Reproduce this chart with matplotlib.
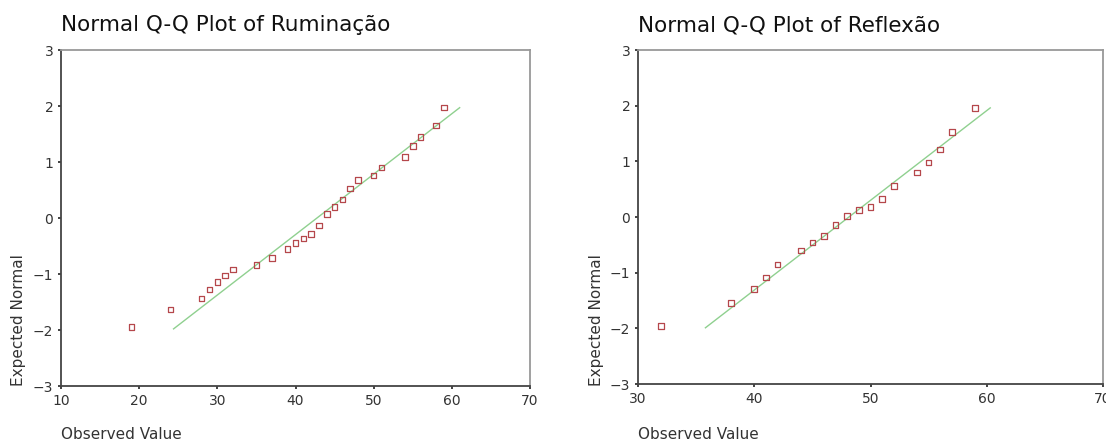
import matplotlib
matplotlib.use("Agg")
import matplotlib.pyplot as plt

# --- Data: Ruminação ---
rum_obs = [19, 24, 28, 29, 30, 31, 32, 35, 37, 39, 40, 41, 42, 43, 44, 45, 46, 47, 48, 50, 51, 54, 55, 56, 58, 59]
rum_exp = [-1.95, -1.63, -1.44, -1.28, -1.14, -1.03, -0.92, -0.84, -0.71, -0.55, -0.45, -0.37, -0.29, -0.13,
           0.07, 0.20, 0.33, 0.53, 0.68, 0.76, 0.90, 1.09, 1.29, 1.45, 1.65, 1.97]
rum_line_x = [24.4, 61.0]
rum_line_y = [-1.98, 1.97]

# --- Data: Reflexão ---
ref_obs = [32, 38, 40, 41, 42, 44, 45, 46, 47, 48, 49, 50, 51, 52, 54, 55, 56, 57, 59]
ref_exp = [-1.96, -1.54, -1.29, -1.09, -0.85, -0.60, -0.46, -0.34, -0.14, 0.02, 0.13, 0.18, 0.32, 0.56,
           0.80, 0.98, 1.21, 1.53, 1.96]
ref_line_x = [35.8, 60.3]
ref_line_y = [-1.99, 1.96]

titles = ["Normal Q-Q Plot of Ruminação", "Normal Q-Q Plot of Reflexão"]
rum_xticks = [10, 20, 30, 40, 50, 60, 70]
ref_xticks = [30, 40, 50, 60, 70]
yticks = [-3, -2, -1, 0, 1, 2, 3]

plt.rcParams['font.family'] = ['DejaVu Sans']

fig = plt.figure(figsize=(11.06, 4.44), dpi=100)
W, H = 1106, 444

def make_ax(px_left, px_right, px_top, px_bottom):
    return fig.add_axes([px_left / W, 1 - px_bottom / H, (px_right - px_left) / W, (px_bottom - px_top) / H])

ax1 = make_ax(61, 530, 50, 386)
ax2 = make_ax(638, 1103, 50, 384)

configs = [
    (ax1, rum_obs, rum_exp, rum_line_x, rum_line_y, rum_xticks, (10, 70), titles[0], 19),
    (ax2, ref_obs, ref_exp, ref_line_x, ref_line_y, ref_xticks, (30, 70), titles[1], 596),
]

for ax, ox, ey, lx, ly, xt, xlim, title, ylab_x in configs:
    ax.plot(lx, ly, color="#8fd08f", lw=1.0, zorder=2)
    ax.scatter(ox, ey, marker="s", s=16, facecolors="none", edgecolors="#b5474b", linewidths=0.9, zorder=3)
    ax.set_xlim(*xlim)
    ax.set_ylim(-3, 3)
    ax.set_xticks(xt)
    ax.set_yticks(yticks)
    ax.tick_params(axis="both", direction="out", length=2.5, width=1.2, color="#222222",
                   labelsize=10, labelcolor="#333333", pad=3)
    for side in ["left", "bottom"]:
        ax.spines[side].set_color("#444444")
        ax.spines[side].set_linewidth(1.3)
    for side in ["top", "right"]:
        ax.spines[side].set_color("#999999")
        ax.spines[side].set_linewidth(1.3)
    pos = ax.get_position()
    fig.text(pos.x0, 1 - 25 / H, title, fontsize=15.5, color="#111111", ha="left", va="center")
    fig.text(pos.x0, 1 - 434 / H, "Observed Value", fontsize=11, color="#333333", ha="left", va="center")
    fig.text(ylab_x / W, 1 - 386 / H, "Expected Normal", fontsize=11, color="#333333",
             rotation=90, ha="center", va="bottom")

fig.savefig("out.png", dpi=100, facecolor="white")
